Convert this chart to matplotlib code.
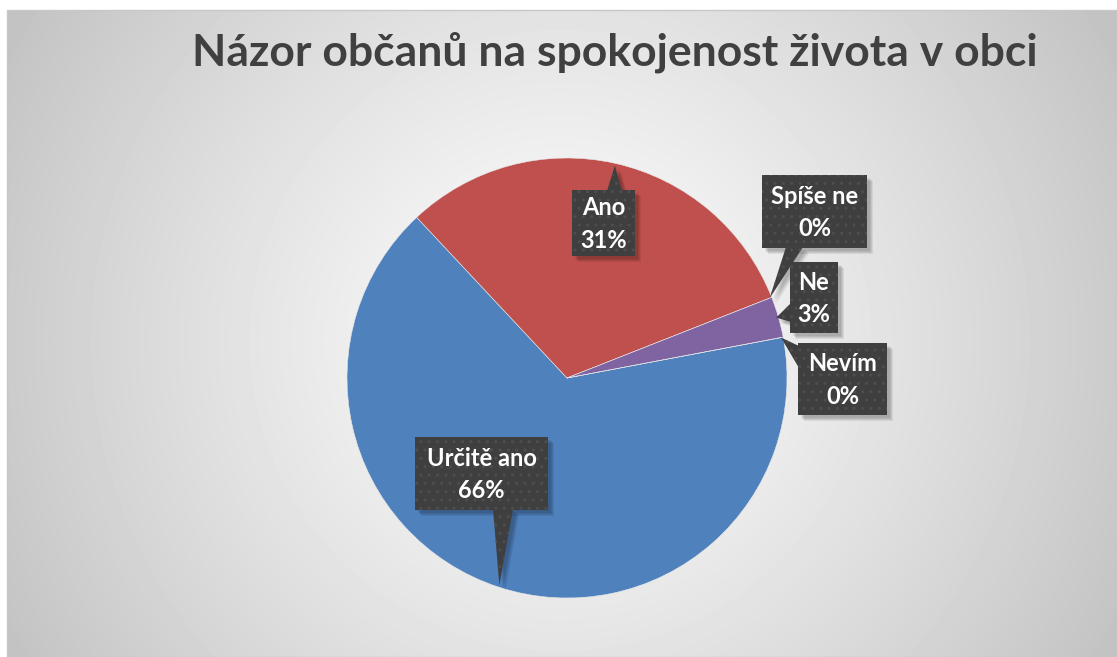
import numpy as np
import matplotlib.pyplot as plt
from matplotlib.patches import Polygon, Rectangle

# data
labels = ['Určitě ano', 'Ano', 'Spíše ne', 'Ne', 'Nevím']
values = [66, 31, 0, 3, 0]
percents = ['66%', '31%', '0%', '3%', '0%']
colors = ['#4F81BD', '#C0504D', '#9BBB59', '#8064A2', '#4BACC6']
title = 'Názor občanů na spokojenost života v obci'

W, H = 1117, 657
fig = plt.figure(figsize=(W / 100, H / 100), dpi=100)
fig.patch.set_facecolor('white')

# background with radial gradient
bg = fig.add_axes([0, 0, 1, 1])
bg.axis('off')
yy, xx = np.mgrid[10:H, 7:W]
d = np.hypot(xx - 560, yy - 340)
img = 253 - 60 * (d / d.max()) ** 1.2
bg.imshow(img, extent=(7, W, H, 10), cmap='gray', vmin=0, vmax=255,
          aspect='auto', interpolation='bilinear')
bg.add_patch(Rectangle((7, 10), W - 7, H - 10, fill=False, edgecolor='#c8c8c8', lw=1))
bg.set_xlim(0, W)
bg.set_ylim(H, 0)

# the pie
ax = fig.add_axes([347 / W, (H - 598) / H, 440 / W, 440 / H])
wedges, _ = ax.pie(values, colors=colors, startangle=10.7, counterclock=False,
                   wedgeprops=dict(edgecolor='#e8e8e8', linewidth=0.4))
ax.set_xlim(-1, 1)
ax.set_ylim(-1, 1)
ax.axis('off')

# overlay for callouts
top = fig.add_axes([0, 0, 1, 1])
top.set_xlim(0, W)
top.set_ylim(H, 0)
top.axis('off')
top.patch.set_alpha(0)

top.text(615, 52, title, ha='center', va='center', fontsize=32,
         fontweight='bold', color='#404040', family='Lato')

# boxes: (x0, y0, x1, y1) and pointer base points
boxes = [
    ((415, 437, 548, 510), [(493, 509), (513, 509)]),
    ((572, 190, 635, 256), [(607, 191), (622, 191)]),
    ((762, 175, 867, 248), [(786, 247), (803, 247)]),
    ((790, 262, 838, 333), [(791, 303), (791, 322)]),
    ((798, 343, 887, 415), [(799, 346), (799, 368)]),
]

for i, w in enumerate(wedges):
    th = np.deg2rad((w.theta1 + w.theta2) / 2)
    p = ax.transData.transform((0.99 * np.cos(th), 0.99 * np.sin(th)))
    tip = top.transData.inverted().transform(p)
    (x0, y0, x1, y1), base = boxes[i]
    rect = [(x0, y0), (x1, y0), (x1, y1), (x0, y1)]
    tri = [base[0], tuple(tip), base[1]]
    # soft shadow
    for off in [6, 5, 4, 3]:
        for shape in (rect, tri):
            top.add_patch(Polygon([(a + off, b + off) for a, b in shape],
                                  closed=True, facecolor='black', edgecolor='none',
                                  alpha=0.07))
    for shape in (rect, tri):
        top.add_patch(Polygon(shape, closed=True, facecolor='#3f3f3f', edgecolor='none'))
        top.add_patch(Polygon(shape, closed=True, fill=False, edgecolor='#4e4e4e',
                              lw=0, hatch='..'))
    top.text((x0 + x1) / 2, (y0 + y1) / 2 + 1, labels[i] + '\n' + percents[i],
             ha='center', va='center', fontsize=17, fontweight='bold', color='white',
             family='Lato', linespacing=1.5)

fig.savefig('out.png', dpi=100)
